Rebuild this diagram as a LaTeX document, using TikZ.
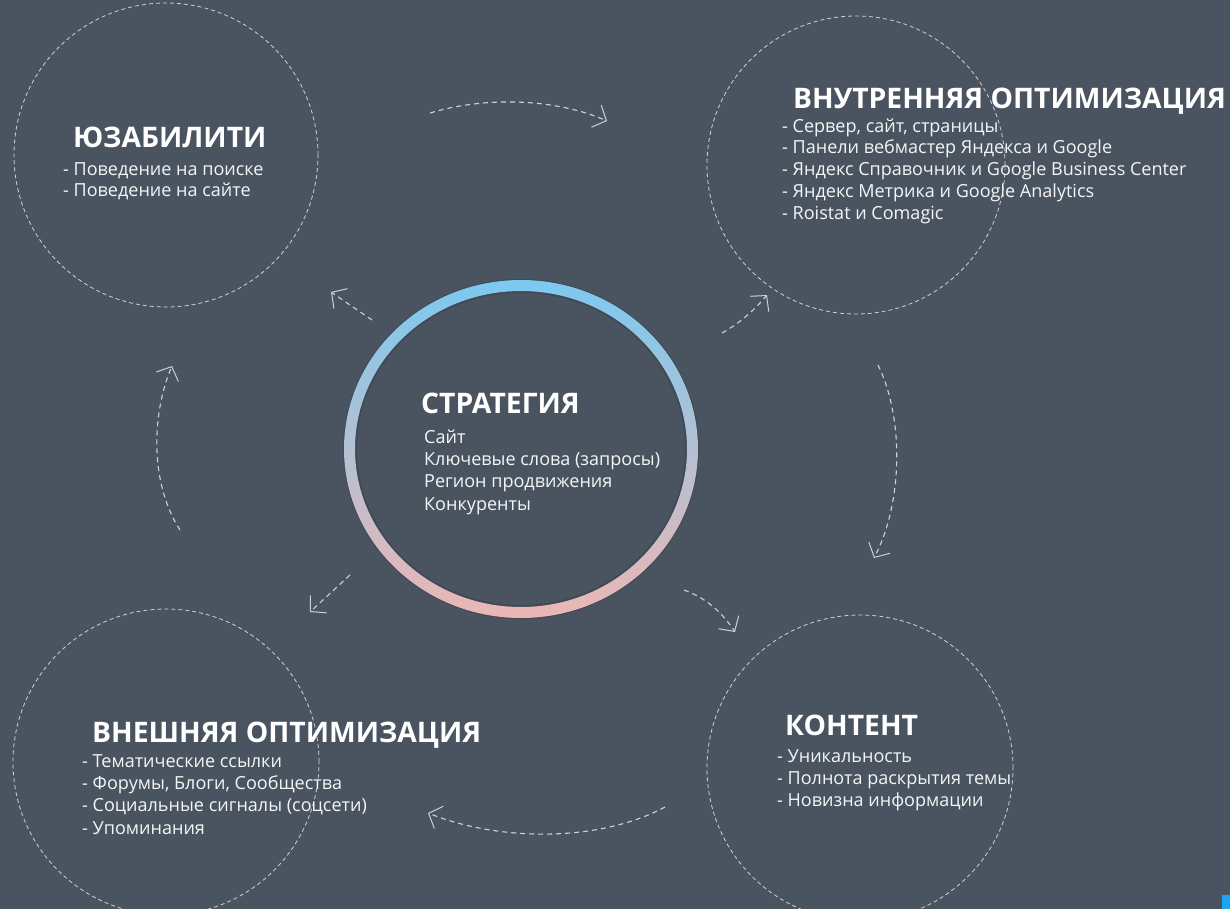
\documentclass[tikz,border=0pt]{standalone}
\usepackage{fontspec}
\setmainfont{Open Sans}
\usetikzlibrary{
	positioning		% relative placement
	, arrows.meta		% open arrow tips
	, calc
}

\definecolor{slate}{HTML}{4A5461}
\definecolor{dashgray}{HTML}{CDD1D6}
\definecolor{ringblue}{HTML}{7CC9F0}
\definecolor{ringmid}{HTML}{C3C7DA}
\definecolor{ringpink}{HTML}{EBB7B4}
\definecolor{cornerblue}{HTML}{1BA6F2}

\begin{document}
\begin{tikzpicture}[
				x=1bp, y=-1bp,
				zone/.style={
					circle,
					draw=dashgray,
					line width=0.8bp,
					dash pattern=on 4bp off 3bp,
					minimum size=#1,
					inner sep=0
				},
				heading/.style={
					anchor=base west,
					inner sep=0,
					text=white,
					font=\fontsize{28.4}{31}\selectfont\bfseries
				},
				entry/.style={
					anchor=base west,
					inner sep=0,
					text=white!94!slate,
					font=\fontsize{18.1}{21}\selectfont
				},
				flow/.style={
					-{Straight Barb[length=11bp, width=24bp, line width=1bp]},
					draw=dashgray,
					line width=1.1bp,
					dash pattern=on 5bp off 4bp
				}]

			% background and frame
			\fill[slate] (0,0) rectangle (1230,909);
			\useasboundingbox (0,0) rectangle (1230,909);
			\fill[cornerblue] (1222,895) rectangle (1230,909);

			%%% The four dashed zones around the strategy
			\node [zone=304bp] (usab) at (166,155) {};
			\node [zone=298bp] (inner) at (856,165) {};
			\node [zone=306bp] (outer) at (166,762) {};
			\node [zone=306bp] (content) at (860,768) {};

			%%% Central ring with gradient and soft shadow
			\coordinate (strat) at (521,449);
			\draw [black, opacity=0.12, line width=14bp] (strat) ellipse [x radius=171bp, y radius=163bp];
			\path [even odd rule, top color=ringblue, middle color=ringmid, bottom color=ringpink]
				(strat) ellipse [x radius=177bp, y radius=169bp]
				(strat) ellipse [x radius=166bp, y radius=158bp];

			%%% Headings and entries
			\node [heading] (usabTitle) at (73,147) {ЮЗАБИЛИТИ};
			\foreach [count=\i] \item in {- Поведение на поиске, - Поведение на сайте} {
				\node [entry] (usab\i) at (63,{154+21.3*\i}) {\item};
			};

			\node [heading] (innerTitle) at (793,108) {ВНУТРЕННЯЯ ОПТИМИЗАЦИЯ};
			\foreach [count=\i] \item in {{- Сервер, сайт, страницы}, - Панели вебмастер Яндекса и Google,
				- Яндекс Справочник и Google Business Center, - Яндекс Метрика и Google Analytics,
				- Roistat и Comagic} {
				\node [entry] (inner\i) at (782,{110.5+21.7*\i}) {\item};
			};

			\node [heading] (stratTitle) at (421,413) {СТРАТЕГИЯ};
			\foreach [count=\i] \item in {Сайт, Ключевые слова (запросы), Регион продвижения, Конкуренты} {
				\node [entry] (strat\i) at (424,{421+22.3*\i}) {\item};
			};

			\node [heading] (outerTitle) at (92,742) {ВНЕШНЯЯ ОПТИМИЗАЦИЯ};
			\foreach [count=\i] \item in {- Тематические ссылки, {- Форумы, Блоги, Сообщества},
				- Социальные сигналы (соцсети), - Упоминания} {
				\node [entry] (outer\i) at (82,{745+22.3*\i}) {\item};
			};

			\node [heading] (contentTitle) at (785,735) {КОНТЕНТ};
			\foreach [count=\i] \item in {- Уникальность, - Полнота раскрытия темы, - Новизна информации} {
				\node [entry] (content\i) at (777,{740+22*\i}) {\item};
			};

			%%% Flow ends
			\coordinate (f1a) at (430,113);  \coordinate (f1b) at (607,121);
			\coordinate (f2a) at (722,333);  \coordinate (f2b) at (767,295);
			\coordinate (f3a) at (878,365);  \coordinate (f3b) at (874,558);
			\coordinate (f4a) at (684,590);  \coordinate (f4b) at (735,632);
			\coordinate (f5a) at (665,807);  \coordinate (f5b) at (428,813);
			\coordinate (f6a) at (350,575);  \coordinate (f6b) at (310,612);
			\coordinate (f7a) at (180,530);  \coordinate (f7b) at (172,366);
			\coordinate (f8a) at (372,320);  \coordinate (f8b) at (331,292);

			\draw [flow] (f1a) .. controls (490,95) and (560,100) .. (f1b);
			\draw [flow] (f2a) .. controls (742,322) and (757,307) .. (f2b);
			\draw [flow] (f3a) .. controls (905,420) and (902,505) .. (f3b);
			\draw [flow] (f4a) .. controls (706,598) and (722,612) .. (f4b);
			\draw [flow] (f5a) .. controls (600,842) and (500,842) .. (f5b);
			\draw [flow] (f6a) -- (f6b);
			\draw [flow] (f7a) .. controls (148,480) and (153,410) .. (f7b);
			\draw [flow] (f8a) -- (f8b);

		\end{tikzpicture}
\end{document}
